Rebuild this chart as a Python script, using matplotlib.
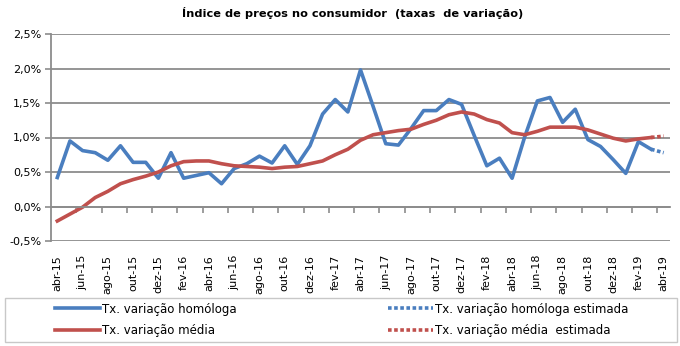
import numpy as np
import matplotlib.pyplot as plt
from matplotlib.patches import Rectangle
from matplotlib.ticker import FuncFormatter

# Taxas de variação mensais, abr-15 a mar-19 (valores observados)
homologa = [0.42, 0.95, 0.81, 0.78, 0.67, 0.88, 0.64, 0.64, 0.41, 0.78,
            0.41, 0.45, 0.49, 0.33, 0.55, 0.62, 0.73, 0.63, 0.88, 0.61,
            0.88, 1.34, 1.55, 1.37, 1.98, 1.45, 0.91, 0.89, 1.13, 1.39,
            1.39, 1.55, 1.48, 1.03, 0.59, 0.70, 0.41, 1.01, 1.53, 1.58,
            1.22, 1.41, 0.97, 0.87, 0.68, 0.48, 0.94, 0.83]
media = [-0.21, -0.11, -0.01, 0.13, 0.22, 0.33, 0.39, 0.44, 0.50, 0.59,
         0.65, 0.66, 0.66, 0.62, 0.59, 0.58, 0.57, 0.55, 0.57, 0.58,
         0.62, 0.66, 0.75, 0.83, 0.96, 1.04, 1.07, 1.10, 1.12, 1.19,
         1.25, 1.33, 1.37, 1.34, 1.26, 1.21, 1.07, 1.04, 1.09, 1.15,
         1.15, 1.15, 1.11, 1.05, 0.99, 0.95, 0.98, 1.00]
# estimativas para abr-19
homologa_est = 0.78
media_est = 1.02

rotulos = ['abr-15', 'jun-15', 'ago-15', 'out-15', 'dez-15', 'fev-16', 'abr-16',
           'jun-16', 'ago-16', 'out-16', 'dez-16', 'fev-17', 'abr-17', 'jun-17',
           'ago-17', 'out-17', 'dez-17', 'fev-18', 'abr-18', 'jun-18', 'ago-18',
           'out-18', 'dez-18', 'fev-19', 'abr-19']

azul = '#4A7EBF'
vermelho = '#C0504D'
cinza = '#8C8C8C'

hom_full = homologa + [homologa_est]
med_full = media + [media_est]
x = np.arange(len(hom_full))
n = len(homologa)

fig = plt.figure(figsize=(6.8, 3.46), dpi=100)
ax = fig.add_axes([51 / 680, 1 - 241 / 346, 619 / 680, 207 / 346])

l1, = ax.plot(x[:n], homologa, color=azul, lw=2.6, solid_joinstyle='round',
              label='Tx. variação homóloga')
l2, = ax.plot(x[:n], media, color=vermelho, lw=2.6, solid_joinstyle='round',
              label='Tx. variação média')
l3, = ax.plot(x[n - 1:], hom_full[n - 1:], color=azul, lw=2.6,
              ls=(0, (1, 0.7)), label='Tx. variação homóloga estimada')
l4, = ax.plot(x[n - 1:], med_full[n - 1:], color=vermelho, lw=2.6,
              ls=(0, (1, 0.7)), label='Tx. variação média  estimada')

ax.set_xlim(-0.5, len(hom_full) - 0.5)
ax.set_ylim(-0.5, 2.5)
ax.set_yticks(np.arange(-0.5, 2.51, 0.5))
ax.yaxis.set_major_formatter(FuncFormatter(lambda v, p: f'{v:.1f}%'.replace('.', ',')))
ax.yaxis.grid(True, color=cinza, lw=1.3)
ax.set_axisbelow(True)
ax.tick_params(axis='y', length=4, color=cinza, width=1.2, labelsize=8, pad=3)

for s in ['top', 'right']:
    ax.spines[s].set_visible(False)
ax.spines['left'].set_color(cinza)
ax.spines['left'].set_linewidth(1.3)
ax.spines['bottom'].set_position(('data', 0))
ax.spines['bottom'].set_color(cinza)
ax.spines['bottom'].set_linewidth(1.3)
ax.set_xticks(np.arange(1.5, len(hom_full) - 1, 2))
ax.tick_params(axis='x', length=4, color=cinza, width=1.2, labelbottom=False)

sec = ax.secondary_xaxis('bottom')
sec.set_xticks(np.arange(0, len(hom_full), 2), labels=rotulos, rotation=90)
sec.tick_params(length=0, pad=10, labelsize=8)
sec.spines['bottom'].set_visible(False)

fig.text(0.518, 0.963, 'Índice de preços no consumidor  (taxas  de variação)',
         ha='center', va='center', fontsize=8.2, fontweight='bold')

fig.legend(handles=[l1, l2, l3, l4], ncol=2, loc='center left',
           bbox_to_anchor=(55 / 680, 1 - 320 / 346), frameon=False,
           fontsize=8.5, handlelength=3.8, handletextpad=0.2,
           labelspacing=0.75, columnspacing=12.8, borderpad=0, borderaxespad=0)
fig.add_artist(Rectangle((5 / 680, 1 - 342 / 346), 672 / 680, 44 / 346,
                         transform=fig.transFigure, fill=False,
                         ec='#C8C8C8', lw=1))

fig.savefig('out.png', dpi=100)
